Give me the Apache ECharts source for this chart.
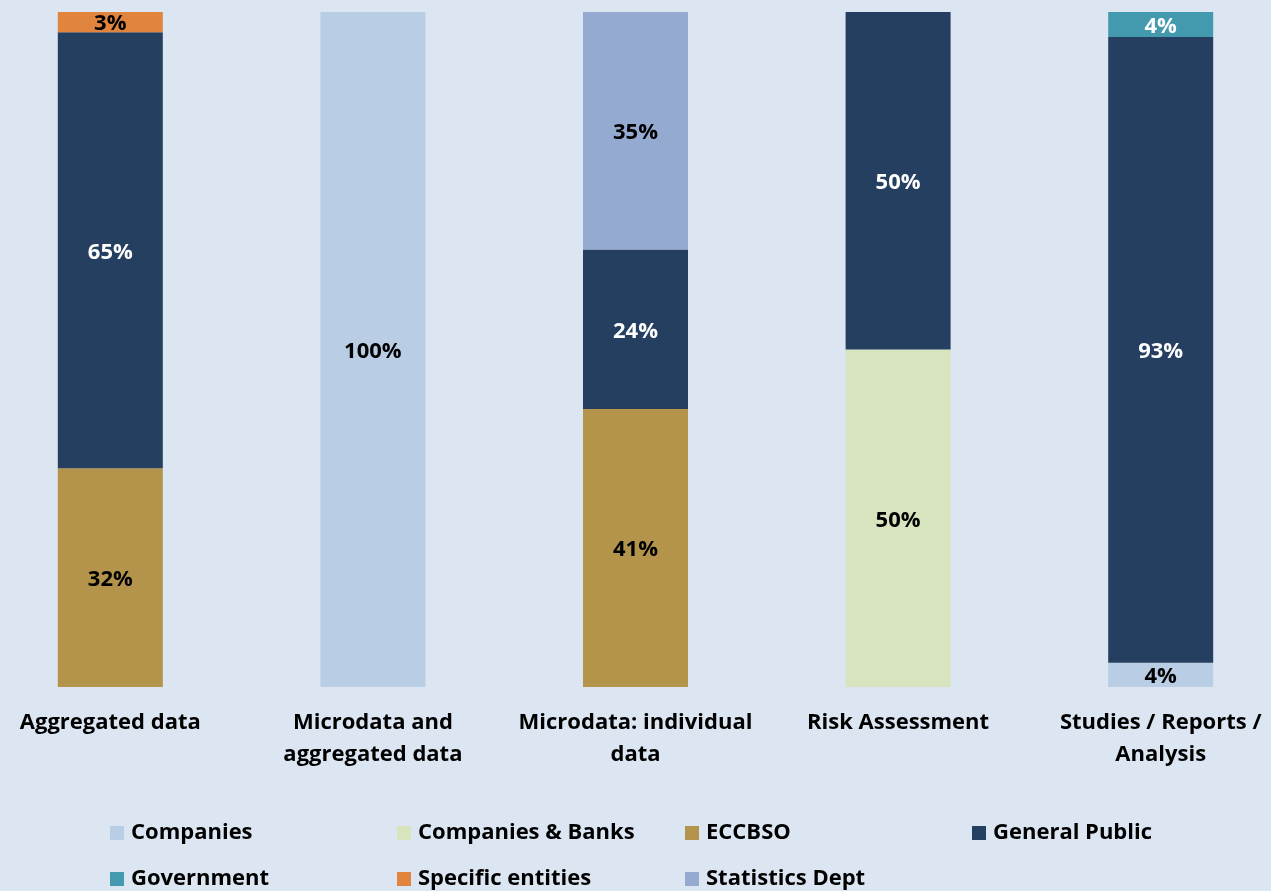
<!DOCTYPE html>
<html>
<head>
<meta charset="utf-8">
<script src="https://cdn.jsdelivr.net/npm/echarts@6/dist/echarts.min.js"></script>
<style>
html,body{margin:0;padding:0;background:#dce6f2;overflow:hidden;width:1271px;height:891px;}
#c{position:absolute;left:-21px;top:0;width:1313px;height:891px;}
</style>
</head>
<body>
<div id="c"></div>
<script>
const categories = ['Aggregated data', 'Microdata and\naggregated data', 'Microdata: individual\ndata', 'Risk Assessment', 'Studies / Reports /\nAnalysis'];
const seriesNames = ['Companies', 'Companies & Banks', 'ECCBSO', 'General Public', 'Government', 'Specific entities', 'Statistics Dept'];
const companies = [0, 100, 0, 0, 3.6];
const companiesBanks = [0, 0, 0, 50, 0];
const eccbso = [32.4, 0, 41.2, 0, 0];
const generalPublic = [64.6, 0, 23.6, 50, 92.7];
const government = [0, 0, 0, 0, 3.7];
const specificEntities = [3.0, 0, 0, 0, 0];
const statisticsDept = [0, 0, 35.2, 0, 0];

const values = [companies, companiesBanks, eccbso, generalPublic, government, specificEntities, statisticsDept];
const colors = ['#b9cde5', '#d7e4bd', '#b3944a', '#253f60', '#4399ad', '#e0843e', '#95aad1'];
const labelColors = ['#000', '#000', '#000', '#fff', '#fff', '#000', '#000'];

const totals = categories.map((_, i) => values.reduce((s, arr) => s + arr[i], 0));
const FONT = 'Open Sans';
const FS = 22;

const series = seriesNames.map((name, k) => ({
  name: name,
  type: 'bar',
  stack: 'total',
  barWidth: 105,
  itemStyle: {color: colors[k]},
  label: {
    show: true,
    position: 'inside',
    offset: [0, 2],
    color: labelColors[k],
    fontFamily: FONT,
    fontWeight: 'bold',
    fontSize: FS,
    formatter: p => Math.round(values[k][p.dataIndex]) + '%'
  },
  data: values[k].map((v, i) => v > 0 ? v / totals[i] * 100 : '-')
}));

const OFFSET = 21;
const legendX = [110, 397, 685, 972];
const legendY = [822, 868];
const legends = seriesNames.map((name, k) => ({
  data: [name],
  left: legendX[k % 4] + OFFSET,
  top: legendY[Math.floor(k / 4)],
  itemWidth: 14,
  itemHeight: 14,
  itemGap: 0,
  icon: 'rect',
  textStyle: {fontFamily: FONT, fontWeight: 'bold', fontSize: FS, color: '#000', padding: [0, 0, 0, 2]},
  padding: 0
}));

const chart = echarts.init(document.getElementById('c'));
chart.setOption({
  backgroundColor: '#dce6f2',
  animation: false,
  grid: {left: 0, right: 0, top: 12, bottom: 204, containLabel: false},
  xAxis: {
    type: 'category',
    data: categories,
    axisLine: {show: false},
    axisTick: {show: false},
    axisLabel: {
      interval: 0,
      margin: 20,
      fontFamily: FONT,
      fontWeight: 'bold',
      fontSize: FS,
      lineHeight: 32,
      color: '#000'
    }
  },
  yAxis: {
    type: 'value',
    min: 0,
    max: 100,
    show: false,
    splitLine: {show: false}
  },
  legend: legends,
  series: series
});
</script>
</body>
</html>
